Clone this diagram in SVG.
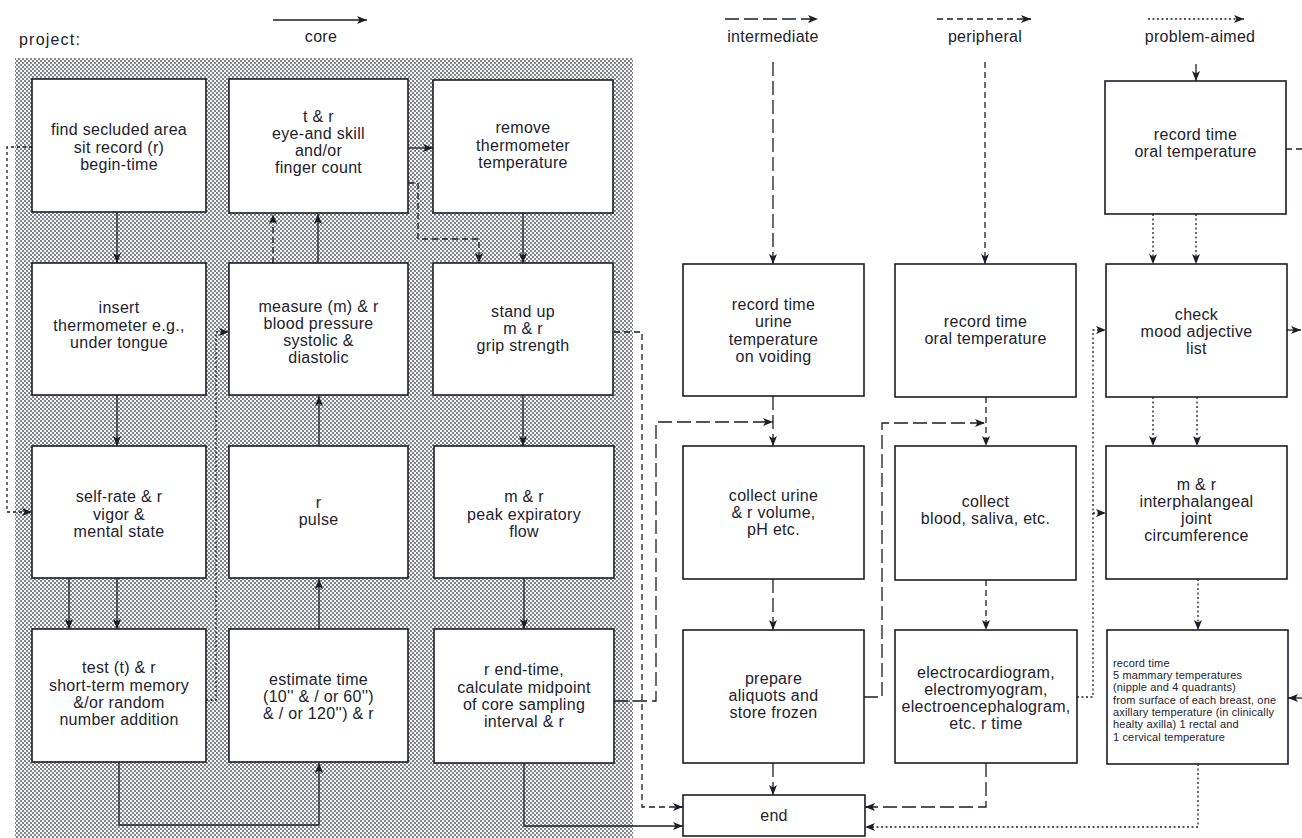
<svg xmlns="http://www.w3.org/2000/svg" width="1302" height="838" viewBox="0 0 1302 838">
<defs>
<style>
.box{fill:#fff;stroke:#1c1c28;stroke-width:1.6}
.t{font-family:"Liberation Sans",Arial,Helvetica,sans-serif;font-size:16px;fill:#22222e;text-anchor:middle;letter-spacing:0.3px}
.s{font-family:"Liberation Sans",Arial,Helvetica,sans-serif;font-size:11px;fill:#22222e;letter-spacing:0.15px}
.c{fill:none;stroke:#1c1c28;stroke-width:1.3}
.inter{stroke-dasharray:14 5}
.peri{stroke-dasharray:6 4}
.prob{stroke-dasharray:2 2.5}
.misc{stroke-dasharray:3 3}
</style>
<pattern id="dots" width="4" height="4" patternUnits="userSpaceOnUse">
<rect width="4" height="4" fill="#fafafa"/>
<circle cx="1" cy="1" r="0.95" fill="#50505e"/>
<circle cx="3" cy="3" r="0.95" fill="#50505e"/>
</pattern>
<marker id="a" viewBox="0 0 10 8" refX="10" refY="4" markerWidth="11" markerHeight="8" markerUnits="userSpaceOnUse" orient="auto">
<path d="M0,0 L10,4 L0,8 L2.5,4 z" fill="#1c1c28"/>
</marker>
</defs>
<rect width="1302" height="838" fill="#fff"/>
<rect id="core-panel" x="15" y="58" width="618" height="780" fill="url(#dots)"/>

<g id="legend">
<text class="t" x="19" y="45" style="text-anchor:start;letter-spacing:1.2px">project:</text>
<line class="c" x1="273" y1="20" x2="367" y2="20" marker-end="url(#a)"/>
<text class="t" x="321" y="42">core</text>
<line class="c inter" x1="725" y1="19" x2="818" y2="19" marker-end="url(#a)"/>
<text class="t" x="773" y="42">intermediate</text>
<line class="c peri" x1="937" y1="19" x2="1031" y2="19" marker-end="url(#a)"/>
<text class="t" x="985" y="42">peripheral</text>
<line class="c prob" x1="1148" y1="19" x2="1244" y2="19" marker-end="url(#a)"/>
<text class="t" x="1200" y="42">problem-aimed</text>
</g>

<g id="connectors">
<path class="c" d="M117,212 V263" marker-end="url(#a)"/>
<path class="c" d="M117,395 V446" marker-end="url(#a)"/>
<path class="c" d="M69,578 V629" marker-end="url(#a)"/>
<path class="c" d="M117,578 V629" marker-end="url(#a)"/>
<path class="c" d="M119,762 V825 H319 V763" marker-end="url(#a)"/>
<path class="c" d="M319,629 V579" marker-end="url(#a)"/>
<path class="c" d="M319,446 V396" marker-end="url(#a)"/>
<path class="c" d="M318,263 V214" marker-end="url(#a)"/>
<path class="c peri" d="M273,263 V214" marker-end="url(#a)"/>
<path class="c" d="M408,148 H433" marker-end="url(#a)"/>
<path class="c peri" d="M408,183 H418 V239 H479 V263" marker-end="url(#a)"/>
<path class="c" d="M523,213 V263" marker-end="url(#a)"/>
<path class="c" d="M523,395 V446" marker-end="url(#a)"/>
<path class="c" d="M524,578 V629" marker-end="url(#a)"/>
<path class="c" d="M524,763 V826 H683" marker-end="url(#a)"/>
<path class="c peri" d="M614,332 H642 V807 H683" marker-end="url(#a)"/>
<path class="c inter" d="M614,701 H656 V422 H773" marker-end="url(#a)"/>
<path class="c misc" d="M32,147 H7 V512 H32" marker-end="url(#a)"/>
<path class="c prob" d="M206,700 H216 V332 H229" marker-end="url(#a)"/>

<path class="c inter" d="M773,62 V264" marker-end="url(#a)"/>
<path class="c inter" d="M773,396 V446" marker-end="url(#a)"/>
<path class="c inter" d="M773,579 V630" marker-end="url(#a)"/>
<path class="c inter" d="M773,763 V795" marker-end="url(#a)"/>

<path class="c peri" d="M985,62 V264" marker-end="url(#a)"/>
<path class="c peri" d="M986,397 V446" marker-end="url(#a)"/>
<path class="c inter" d="M864,697 H882 V423 H985" marker-end="url(#a)"/>
<path class="c peri" d="M986,580 V630" marker-end="url(#a)"/>
<path class="c inter" d="M986,763 V807 H865" marker-end="url(#a)"/>

<path class="c" d="M1196,64 V81" marker-end="url(#a)"/>
<path class="c prob" d="M1153,214 V264" marker-end="url(#a)"/>
<path class="c prob" d="M1196,214 V264" marker-end="url(#a)"/>
<path class="c prob" d="M1153,397 V446" marker-end="url(#a)"/>
<path class="c prob" d="M1197,397 V446" marker-end="url(#a)"/>
<path class="c prob" d="M1198,579 V630" marker-end="url(#a)"/>
<path class="c prob" d="M1198,764 V827 H865" marker-end="url(#a)"/>
<path class="c prob" d="M1077,697 H1093 V330 H1106" marker-end="url(#a)"/>
<path class="c prob" d="M1093,513 H1106" marker-end="url(#a)"/>
<path class="c peri" d="M1286,149 H1302"/>
<path class="c" d="M1287,330 H1301" marker-end="url(#a)"/>
<path class="c" d="M1302,698 H1288" marker-end="url(#a)"/>
</g>

<g id="find-area">
<rect class="box" x="32" y="79" width="174" height="133"/>
<text class="t"><tspan x="119" y="135">find secluded area</tspan><tspan x="119" y="152.5">sit record (r)</tspan><tspan x="119" y="170">begin-time</tspan></text>
</g>
<g id="eye-skill">
<rect class="box" x="229" y="79" width="179" height="134"/>
<text class="t"><tspan x="318.5" y="122">t &amp; r</tspan><tspan x="318.5" y="139">eye-and skill</tspan><tspan x="318.5" y="156">and/or</tspan><tspan x="318.5" y="173">finger count</tspan></text>
</g>
<g id="remove-thermometer">
<rect class="box" x="433" y="80" width="180" height="133"/>
<text class="t"><tspan x="523" y="133">remove</tspan><tspan x="523" y="151">thermometer</tspan><tspan x="523" y="168">temperature</tspan></text>
</g>

<g id="insert-thermometer">
<rect class="box" x="32" y="263" width="174" height="132"/>
<text class="t"><tspan x="119" y="313">insert</tspan><tspan x="119" y="331">thermometer e.g.,</tspan><tspan x="119" y="348">under tongue</tspan></text>
</g>
<g id="blood-pressure">
<rect class="box" x="229" y="263" width="179" height="132"/>
<text class="t"><tspan x="318.5" y="312">measure (m) &amp; r</tspan><tspan x="318.5" y="329">blood pressure</tspan><tspan x="318.5" y="346">systolic &amp;</tspan><tspan x="318.5" y="363">diastolic</tspan></text>
</g>
<g id="grip-strength">
<rect class="box" x="433" y="263" width="180" height="132"/>
<text class="t"><tspan x="523" y="317">stand up</tspan><tspan x="523" y="334">m &amp; r</tspan><tspan x="523" y="351">grip strength</tspan></text>
</g>

<g id="self-rate">
<rect class="box" x="32" y="446" width="174" height="132"/>
<text class="t"><tspan x="119" y="502">self-rate &amp; r</tspan><tspan x="119" y="520">vigor &amp;</tspan><tspan x="119" y="537">mental state</tspan></text>
</g>
<g id="pulse">
<rect class="box" x="229" y="446" width="179" height="132"/>
<text class="t"><tspan x="318.5" y="508">r</tspan><tspan x="318.5" y="525">pulse</tspan></text>
</g>
<g id="peak-flow">
<rect class="box" x="434" y="446" width="180" height="132"/>
<text class="t"><tspan x="524" y="502">m &amp; r</tspan><tspan x="524" y="520">peak expiratory</tspan><tspan x="524" y="537">flow</tspan></text>
</g>

<g id="memory-test">
<rect class="box" x="32" y="629" width="174" height="133"/>
<text class="t"><tspan x="119" y="673">test (t) &amp; r</tspan><tspan x="119" y="691">short-term memory</tspan><tspan x="119" y="708">&amp;/or random</tspan><tspan x="119" y="725">number addition</tspan></text>
</g>
<g id="estimate-time">
<rect class="box" x="229" y="629" width="179" height="133"/>
<text class="t"><tspan x="318.5" y="685">estimate time</tspan><tspan x="318.5" y="702">(10'' &amp; / or 60'')</tspan><tspan x="318.5" y="719">&amp; / or 120'') &amp; r</tspan></text>
</g>
<g id="end-time">
<rect class="box" x="434" y="629" width="180" height="134"/>
<text class="t"><tspan x="524" y="675">r end-time,</tspan><tspan x="524" y="693">calculate midpoint</tspan><tspan x="524" y="710">of core sampling</tspan><tspan x="524" y="727">interval &amp; r</tspan></text>
</g>

<g id="urine-temp">
<rect class="box" x="683" y="264" width="181" height="132"/>
<text class="t"><tspan x="773.5" y="310">record time</tspan><tspan x="773.5" y="327">urine</tspan><tspan x="773.5" y="345">temperature</tspan><tspan x="773.5" y="362">on voiding</tspan></text>
</g>
<g id="collect-urine">
<rect class="box" x="683" y="446" width="181" height="133"/>
<text class="t"><tspan x="773.5" y="501">collect urine</tspan><tspan x="773.5" y="518">&amp; r volume,</tspan><tspan x="773.5" y="535">pH etc.</tspan></text>
</g>
<g id="aliquots">
<rect class="box" x="683" y="630" width="181" height="133"/>
<text class="t"><tspan x="773.5" y="684">prepare</tspan><tspan x="773.5" y="701">aliquots and</tspan><tspan x="773.5" y="718">store frozen</tspan></text>
</g>
<g id="end">
<rect class="box" x="683" y="795" width="182" height="41"/>
<text class="t" x="774" y="821">end</text>
</g>

<g id="oral-temp-peripheral">
<rect class="box" x="895" y="264" width="181" height="133"/>
<text class="t"><tspan x="985.5" y="327">record time</tspan><tspan x="985.5" y="344">oral temperature</tspan></text>
</g>
<g id="collect-blood">
<rect class="box" x="895" y="446" width="181" height="134"/>
<text class="t"><tspan x="985.5" y="507">collect</tspan><tspan x="985.5" y="524">blood, saliva, etc.</tspan></text>
</g>
<g id="electro">
<rect class="box" x="895" y="630" width="182" height="133"/>
<text class="t"><tspan x="986" y="678">electrocardiogram,</tspan><tspan x="986" y="695">electromyogram,</tspan><tspan x="986" y="712">electroencephalogram,</tspan><tspan x="986" y="729">etc. r time</tspan></text>
</g>

<g id="oral-temp-problem">
<rect class="box" x="1105" y="81" width="181" height="133"/>
<text class="t"><tspan x="1195.5" y="140">record time</tspan><tspan x="1195.5" y="157">oral temperature</tspan></text>
</g>
<g id="mood-check">
<rect class="box" x="1106" y="264" width="181" height="133"/>
<text class="t"><tspan x="1196.5" y="320">check</tspan><tspan x="1196.5" y="337">mood adjective</tspan><tspan x="1196.5" y="354">list</tspan></text>
</g>
<g id="interphalangeal">
<rect class="box" x="1106" y="446" width="181" height="133"/>
<text class="t"><tspan x="1196.5" y="490">m &amp; r</tspan><tspan x="1196.5" y="507">interphalangeal</tspan><tspan x="1196.5" y="524">joint</tspan><tspan x="1196.5" y="541">circumference</tspan></text>
</g>
<g id="mammary">
<rect class="box" x="1107" y="630" width="181" height="134"/>
<text class="s"><tspan x="1113" y="666.5">record time</tspan><tspan x="1113" y="679">5 mammary temperatures</tspan><tspan x="1113" y="691">(nipple and 4 quadrants)</tspan><tspan x="1113" y="703.5">from surface of each breast, one</tspan><tspan x="1113" y="716">axillary temperature (in clinically</tspan><tspan x="1113" y="728">healty axilla) 1 rectal and</tspan><tspan x="1113" y="740.5">1 cervical temperature</tspan></text>
</g>
</svg>
